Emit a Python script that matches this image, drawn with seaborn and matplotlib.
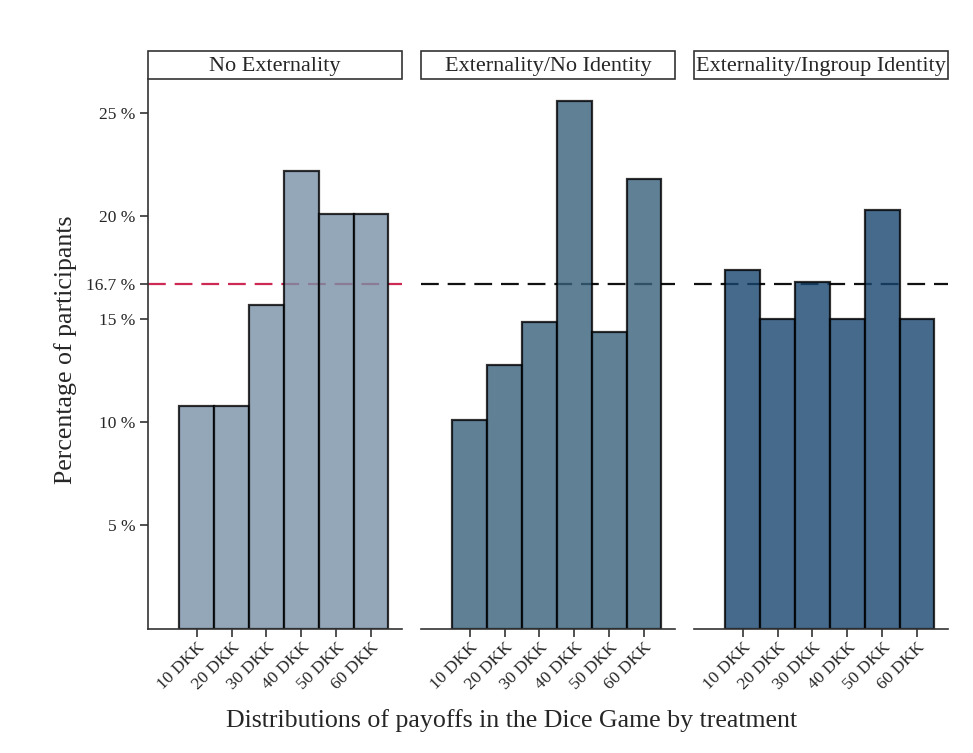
import numpy as np
import pandas as pd
import seaborn as sns
import matplotlib.pyplot as plt
from matplotlib.patches import Rectangle

# payoff categories and percentage shares
payoffs = ['10 DKK', '20 DKK', '30 DKK', '40 DKK', '50 DKK', '60 DKK']
treatments = ['No Externality', 'Externality/No Identity', 'Externality/Ingroup Identity']
no_ext = [10.8, 10.8, 15.7, 22.2, 20.1, 20.1]
ext_no_id = [10.1, 12.8, 14.9, 25.6, 14.4, 21.8]
ext_in_id = [17.4, 15.0, 16.8, 15.0, 20.3, 15.0]
ref_line = 16.7
yticks = [5, 10, 15, 16.7, 20, 25]
ytick_labels = ['5 %', '10 %', '15 %', '16.7 %', '20 %', '25 %']

bar_colors = ['#7a91a7', '#38607c', '#18456f']
line_colors = ['#cc2a55', '#111111', '#111111']

sns.set_style('white')
plt.rcParams['font.family'] = ['Liberation Serif', 'DejaVu Serif']

df = pd.DataFrame({
    'payoff': payoffs * 3,
    'treatment': np.repeat(treatments, 6),
    'pct': no_ext + ext_no_id + ext_in_id,
})

fig = plt.figure(figsize=(9.73, 7.53), dpi=100)
W, H = 973, 753
lefts = [148, 421, 694]
pw = 254
top_px, bot_px = 79, 628.5

for i, tr in enumerate(treatments):
    ax = fig.add_axes([lefts[i] / W, 1 - bot_px / H, pw / W, (bot_px - top_px) / H])
    sub = df[df['treatment'] == tr]
    ax.axhline(ref_line, color=line_colors[i], lw=1.6, dashes=(8, 4), zorder=0.5)
    sns.barplot(data=sub, x='payoff', y='pct', ax=ax, color=bar_colors[i],
                saturation=1, width=1, edgecolor='black', linewidth=1.6,
                alpha=0.8, errorbar=None, zorder=2)
    ax.set_xlim(-1.40, 5.89)
    ax.set_ylim(0, 26.67)
    ax.set_xlabel('')
    ax.set_ylabel('')
    for s in ['top', 'right']:
        ax.spines[s].set_visible(False)
    ax.spines['bottom'].set_color('#333333')
    ax.spines['bottom'].set_linewidth(1.2)
    ax.set_xticks(range(6))
    ax.set_xticklabels(payoffs, rotation=45, ha='right', rotation_mode='anchor', fontsize=12.5)
    ax.tick_params(axis='x', length=6, width=1.2, color='#333333', bottom=True, pad=2)
    if i == 0:
        ax.spines['left'].set_color('#333333')
        ax.spines['left'].set_linewidth(1.2)
        ax.set_yticks(yticks)
        ax.set_yticklabels(ytick_labels, fontsize=12.5)
        ax.tick_params(axis='y', length=6, width=1.2, color='#333333', left=True, pad=3)
    else:
        ax.spines['left'].set_visible(False)
        ax.set_yticks([])
    # title box above each panel
    x0 = lefts[i] / W
    y0 = 1 - 79 / H
    bh = 28 / H
    fig.add_artist(Rectangle((x0, y0), pw / W, bh, transform=fig.transFigure,
                             facecolor='white', edgecolor='#333333', lw=1.2))
    fig.text(x0 + pw / W / 2, y0 + bh / 2 - 2 / H, tr, ha='center', va='center', fontsize=16)

fig.text(66 / W, 1 - 350 / H, 'Percentage of participants', rotation=90,
         ha='center', va='center', fontsize=18.6)
fig.text(512 / W, 1 - 721 / H, 'Distributions of payoffs in the Dice Game by treatment',
         ha='center', va='center', fontsize=18.6)

fig.savefig('out.png', dpi=100)
